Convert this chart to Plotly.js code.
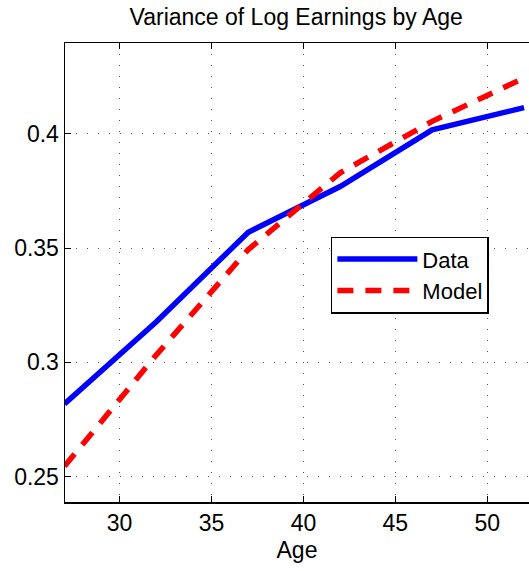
<!DOCTYPE html>
<html>
<head>
<meta charset="utf-8">
<script src="https://cdn.plot.ly/plotly-3.0.1.min.js"></script>
<style>html,body{margin:0;padding:0;background:#fff;overflow:hidden;}</style>
</head>
<body>
<div id="chart" style="width:529px;height:571px;"></div>
<script>
const ages = [27, 32, 37, 42, 47, 52];
const dataVar = [0.2818, 0.3178, 0.3570, 0.3770, 0.4018, 0.4115];
const modelVar = [0.2545, 0.3033, 0.3494, 0.3830, 0.4055, 0.4245];
const xTicks = [30, 35, 40, 45, 50];
const yTicks = [0.25, 0.3, 0.35, 0.4];
const yTickLabels = ['0.25', '0.3', '0.35', '0.4'];

const font = 'Liberation Sans, Arial, Helvetica, sans-serif';

const traces = [
  {x: ages, y: dataVar, name: 'Data', mode: 'lines', type: 'scatter',
   line: {color: '#0000ff', width: 5.5}},
  {x: ages, y: modelVar, name: 'Model', mode: 'lines', type: 'scatter',
   line: {color: '#ff0000', width: 5.5, dash: '16px,12px'}}
];

const layout = {
  width: 529, height: 571,
  margin: {l: 65, r: 0, t: 43, b: 69},
  paper_bgcolor: '#ffffff', plot_bgcolor: '#ffffff',
  font: {family: font, size: 23, color: '#000'},
  title: {text: 'Variance of Log Earnings by Age', x: 0.56, xanchor: 'center', y: 0.97, yanchor: 'middle',
          font: {family: font, size: 23, color: '#000'}},
  xaxis: {
    range: [27.03, 52.27], tickvals: xTicks, ticktext: xTicks.map(String),
    showline: true, linecolor: '#000', linewidth: 1.5, mirror: 'ticks',
    ticks: 'inside', ticklen: 6, tickcolor: '#000', tickwidth: 1,
    showgrid: true, gridcolor: '#555', gridwidth: 1, griddash: '1px,10px',
    zeroline: false, tickfont: {family: font, size: 23},
    title: {text: 'Age', font: {family: font, size: 23}, standoff: 7}
  },
  yaxis: {
    range: [0.2389, 0.4398], tickvals: yTicks, ticktext: yTickLabels,
    showline: true, linecolor: '#000', linewidth: 1.5, mirror: false,
    ticks: 'inside', ticklen: 6, tickcolor: '#000', tickwidth: 1,
    showgrid: true, gridcolor: '#555', gridwidth: 1, griddash: '1px,10px',
    zeroline: false, tickfont: {family: font, size: 23}
  },
  showlegend: true,
  legend: {x: 0.573, y: 0.578, xanchor: 'left', yanchor: 'top',
           bgcolor: '#fff', bordercolor: '#000', borderwidth: 1.5,
           font: {family: font, size: 22, color: '#000'},
           itemwidth: 80, tracegroupgap: 0}
};

Plotly.newPlot('chart', traces, layout, {displayModeBar: false, staticPlot: true});
</script>
</body>
</html>
